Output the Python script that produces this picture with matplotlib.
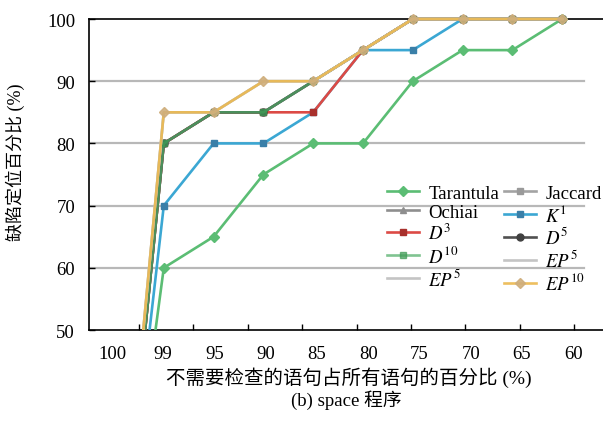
import numpy as np
import matplotlib
matplotlib.use('Agg')
import matplotlib.pyplot as plt
from matplotlib.patches import Rectangle

plt.rcParams['font.family'] = ['Liberation Serif', 'Noto Sans CJK SC']
plt.rcParams['mathtext.fontset'] = 'stix'

# x categories (percentage of statements not examined)
x_labels = ['100', '99', '95', '90', '85', '80', '75', '70', '65', '60']

# localisation percentages per technique
tarantula = [0, 60, 65, 75, 80, 80, 90, 95, 95, 100]
jaccard   = [0, 80, 85, 85, 90, 95, 100, 100, 100, 100]
ochiai    = [0, 80, 85, 85, 90, 95, 100, 100, 100, 100]
k1        = [0, 70, 80, 80, 85, 95, 95, 100, 100, 100]
d3        = [0, 80, 85, 85, 85, 95, 100, 100, 100, 100]
d5        = [0, 80, 85, 85, 90, 95, 100, 100, 100, 100]
d10       = [0, 80, 85, 85, 90, 95, 100, 100, 100, 100]
ep5_a     = [0, 85, 85, 90, 90, 95, 100, 100, 100, 100]
ep5_b     = [0, 85, 85, 90, 90, 95, 100, 100, 100, 100]
ep10      = [0, 85, 85, 90, 90, 95, 100, 100, 100, 100]

series = [
    ('Tarantula', tarantula, '#5bbd74', 'D', '#5bbd74', 1.0),
    ('Jaccard', jaccard, '#a3a3a3', 's', '#9a9a9a', 1.0),
    ('Ochiai', ochiai, '#8e8e8e', '^', '#8e8e8e', 1.0),
    ('$K^{1}$', k1, '#3ba7d3', 's', '#3a7fa8', 1.0),
    ('$D^{3}$', d3, '#dc4a45', 's', '#a8302c', 1.0),
    ('$D^{5}$', d5, '#505050', 'o', '#404040', 1.0),
    ('$D^{10}$', d10, '#4aaa62', 's', '#3e9a55', 0.7),
    ('$EP^{5}$', ep5_a, '#c4c4c4', None, '#c4c4c4', 1.0),
    ('$EP^{5}$', ep5_b, '#c4c4c4', None, '#c4c4c4', 1.0),
    ('$EP^{10}$', ep10, '#ebb84e', 'D', '#cfae7c', 0.9),
]

fig = plt.figure(figsize=(6.03, 4.35), dpi=100)
ax = fig.add_axes([0.1476, 0.239, 0.8524, 0.715])

xpos = np.arange(len(x_labels))
clip = Rectangle((0, 0), 1, 1.1, transform=ax.transAxes, facecolor='none', edgecolor='none')
ax.add_patch(clip)

for name, vals, col, mk, mcol, al in series:
    ln, = ax.plot(xpos, vals, color=col, lw=1.9, marker=mk, ms=5,
                  mfc=mcol, mec=mcol, alpha=al, label=name, zorder=3)
    ln.set_clip_path(clip)

# grid lines stop short of the right edge
for yv in [60, 70, 80, 90]:
    ax.axhline(yv, xmin=0, xmax=0.963, color='#b8b8b8', lw=1.6, zorder=1)

ax.set_xlim(-0.502, 9.82)
ax.set_ylim(50, 100)

ax.set_xticks(np.arange(10) * 1.029 - 0.04)
ax.set_xticklabels(x_labels)
ax.set_xticks(0.502 + np.arange(9) * 1.092, minor=True)
ax.tick_params(axis='x', which='major', length=0, pad=11, labelsize=13.5)
ax.tick_params(axis='x', which='minor', direction='in', length=4, width=1)
ax.set_yticks([50, 60, 70, 80, 90, 100])
ax.tick_params(axis='y', direction='in', length=4, width=1, pad=10, labelsize=13.5)

ax.spines['right'].set_visible(False)
for s in ['left', 'bottom', 'top']:
    ax.spines[s].set_color('black')
    ax.spines[s].set_linewidth(1.2)

ax.set_ylabel('缺陷定位百分比 (%)', fontsize=13)
ax.yaxis.set_label_coords(-0.125, 0.543)
ax.set_xlabel('不需要检查的语句占所有语句的百分比 (%)', fontsize=14)
ax.xaxis.set_label_coords(0.506, -0.151)
ax.xaxis.label.set_verticalalignment('center')
fig.text(0.575, 0.080, '(b) space 程序', ha='center', va='center', fontsize=13.5)

# legend: column-major fill, so order entries to match the two columns
lines = ax.get_lines()
order = [0, 2, 4, 6, 7, 1, 3, 5, 8, 9]
leg = ax.legend([lines[i] for i in order], [lines[i].get_label() for i in order],
                ncol=2, frameon=False, loc='upper left',
                bbox_to_anchor=(0.642, 0.5735), bbox_transform=fig.transFigure,
                borderpad=0, borderaxespad=0, handlelength=1.7, handletextpad=0.5,
                columnspacing=0.25, labelspacing=0.1, fontsize=13.5)

fig.savefig('out.png', dpi=100)
